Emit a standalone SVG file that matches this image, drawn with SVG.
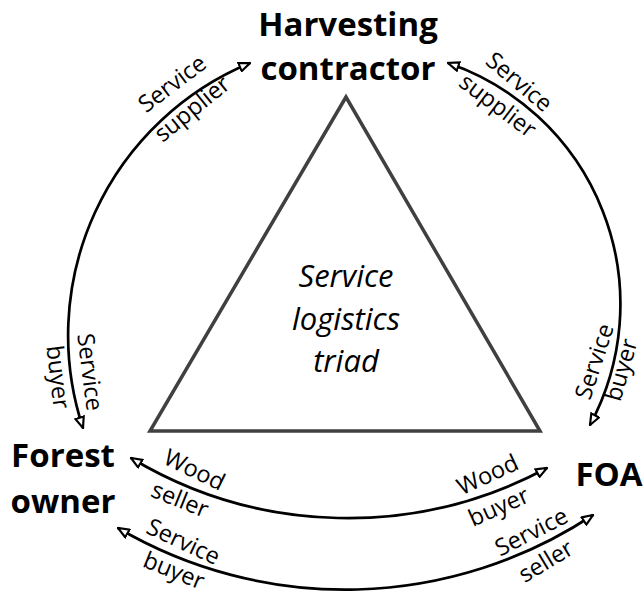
<svg xmlns="http://www.w3.org/2000/svg" width="644" height="595" viewBox="0 0 644 595">
<style>
.bold{font-family:"Open Sans","Liberation Sans",sans-serif;font-weight:bold;font-size:33px;fill:#000}
.lab{font-family:"Open Sans","Liberation Sans",sans-serif;font-size:23.5px;fill:#000}
.ital{font-family:"Open Sans","Liberation Sans",sans-serif;font-style:italic;font-size:31px;fill:#000}
.arc{fill:none;stroke:#000;stroke-width:2.7;marker-start:url(#arr);marker-end:url(#arr)}
</style>
<defs>
<marker id="arr" viewBox="0 0 12 10" refX="11" refY="5" markerWidth="13" markerHeight="11" markerUnits="userSpaceOnUse" orient="auto-start-reverse">
<path d="M1,1 L11,5 L1,9 Z" fill="#fff" stroke="#000" stroke-width="2"/>
</marker>
</defs>
<g id="triad">
<polygon points="346,97 150,431 540,431" fill="#fff" stroke="#404040" stroke-width="3.5" stroke-linejoin="miter"/>
<text class="ital" text-anchor="middle" x="346" y="287">Service</text>
<text class="ital" text-anchor="middle" x="346" y="330">logistics</text>
<text class="ital" text-anchor="middle" x="346" y="372">triad</text>
</g>
<g id="harvesting">
<text class="bold" text-anchor="middle" x="348" y="36">Harvesting</text>
<text class="bold" text-anchor="middle" x="348" y="80">contractor</text>
</g>
<g id="forest">
<text class="bold" text-anchor="middle" x="63" y="467">Forest</text>
<text class="bold" text-anchor="middle" x="63" y="513">owner</text>
</g>
<g id="foa">
<text class="bold" text-anchor="middle" x="609" y="486">FOA</text>
</g>
<g id="connectors">
<path class="arc" d="M250,63 A295,295 0 0 0 83,428"/>
<path class="arc" d="M448,63 A255,255 0 0 1 590,425"/>
<path class="arc" d="M131,458 A421,421 0 0 0 547,468"/>
<path class="arc" d="M118,528 A449,449 0 0 0 593,515"/>
<text class="lab" text-anchor="middle" transform="translate(177,90) rotate(-37)">Service</text>
<text class="lab" text-anchor="middle" transform="translate(197,115) rotate(-39)">supplier</text>
<text class="lab" text-anchor="middle" transform="translate(514,88) rotate(40)">Service</text>
<text class="lab" text-anchor="middle" transform="translate(493,112) rotate(37)">supplier</text>
<text class="lab" text-anchor="middle" transform="translate(82,373) rotate(83)">Service</text>
<text class="lab" text-anchor="middle" transform="translate(50,378) rotate(83)">buyer</text>
<text class="lab" text-anchor="middle" transform="translate(602,364) rotate(-72)">Service</text>
<text class="lab" text-anchor="middle" transform="translate(629,372) rotate(-74)">buyer</text>
<text class="lab" text-anchor="middle" transform="translate(191,477) rotate(26)">Wood</text>
<text class="lab" text-anchor="middle" transform="translate(177,507) rotate(22)">seller</text>
<text class="lab" text-anchor="middle" transform="translate(180,549) rotate(25)">Service</text>
<text class="lab" text-anchor="middle" transform="translate(171,578) rotate(22)">buyer</text>
<text class="lab" text-anchor="middle" transform="translate(491,482) rotate(-25)">Wood</text>
<text class="lab" text-anchor="middle" transform="translate(502,514) rotate(-24)">buyer</text>
<text class="lab" text-anchor="middle" transform="translate(535,539) rotate(-27)">Service</text>
<text class="lab" text-anchor="middle" transform="translate(550,568) rotate(-31)">seller</text>
</g>
</svg>
